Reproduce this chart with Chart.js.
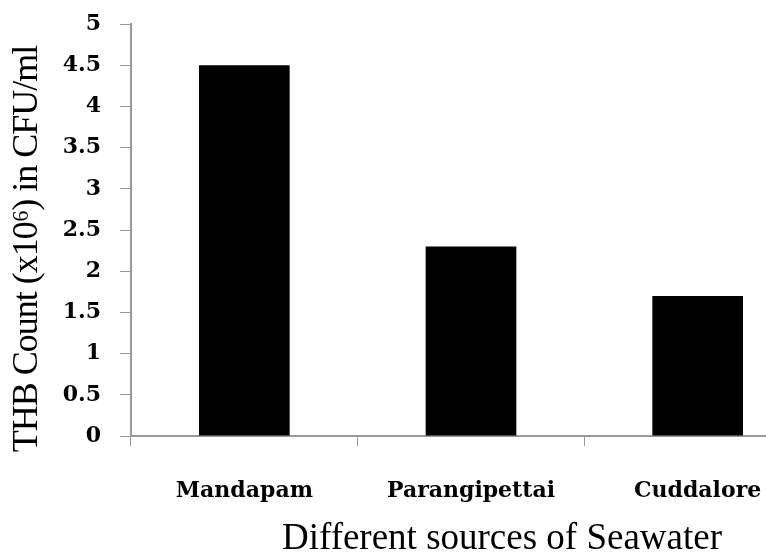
<!DOCTYPE html>
<html>
<head>
<meta charset="utf-8">
<script src="https://cdn.jsdelivr.net/npm/chart.js@4"></script>
<style>
  body { margin: 0; overflow: hidden; background: #fff; }
  #wrap { width: 766px; height: 552px; overflow: hidden; }
</style>
</head>
<body>
<div id="wrap"><canvas id="thbChart" width="811" height="552"></canvas></div>
<script>
  const sources = ["Mandapam", "Parangipettai", "Cuddalore"];
  const thbCounts = [4.5, 2.3, 1.7];
  const yTitle = "THB Count (x10\u2076) in CFU/ml";
  const xTitle = "Different sources of Seawater";

  // both axis titles sit off-centre in the original, draw them by hand
  const axisTitlePlugin = {
    id: "axisTitles",
    afterDraw(chart) {
      const ctx = chart.ctx;
      const xs = chart.scales.x;
      const ys = chart.scales.y;
      ctx.save();
      ctx.fillStyle = "#000";
      ctx.textAlign = "center";

      ctx.font = "37px 'Liberation Serif'";
      ctx.textBaseline = "alphabetic";
      ctx.fillText(xTitle, xs.left + 371, xs.top + 113);

      ctx.font = "36px 'Liberation Serif'";
      ctx.textBaseline = "middle";
      ctx.letterSpacing = "-1px";
      ctx.translate(28, (ys.top + ys.bottom) / 2 + 19);
      ctx.rotate(-Math.PI / 2);
      ctx.fillText(yTitle, 0, 0);
      ctx.restore();
    },
  };

  new Chart(document.getElementById("thbChart"), {
    type: "bar",
    data: {
      labels: sources,
      datasets: [
        {
          data: thbCounts,
          backgroundColor: "#000",
          borderWidth: 0,
          barPercentage: 0.4,
          categoryPercentage: 1,
        },
      ],
    },
    options: {
      responsive: false,
      animation: false,
      layout: { padding: { top: 24, right: 0, bottom: 0, left: 0 } },
      plugins: {
        legend: { display: false },
        tooltip: { enabled: false },
      },
      scales: {
        x: {
          offset: true,
          grid: {
            offset: true,
            drawOnChartArea: false,
            drawTicks: true,
            tickLength: 10,
            color: "#999",
          },
          border: { color: "#999", width: 2 },
          ticks: {
            color: "#000",
            padding: 32,
            maxRotation: 0,
            font: { family: "DejaVu Serif", size: 22, weight: "bold" },
          },
          afterFit(scale) {
            scale.height = 116;
          },
        },
        y: {
          min: 0,
          max: 5,
          ticks: {
            stepSize: 0.5,
            color: "#000",
            padding: 19,
            font: { family: "DejaVu Serif", size: 22, weight: "bold" },
            callback: (v) => String(v),
          },
          grid: {
            drawOnChartArea: false,
            drawTicks: true,
            tickLength: 11,
            color: "#999",
          },
          border: { color: "#999", width: 2 },
          afterFit(scale) {
            scale.width = 131;
            // tick padding would otherwise push the plot top down
            scale.paddingTop = 0;
          },
        },
      },
    },
    plugins: [axisTitlePlugin],
  });
</script>
</body>
</html>
